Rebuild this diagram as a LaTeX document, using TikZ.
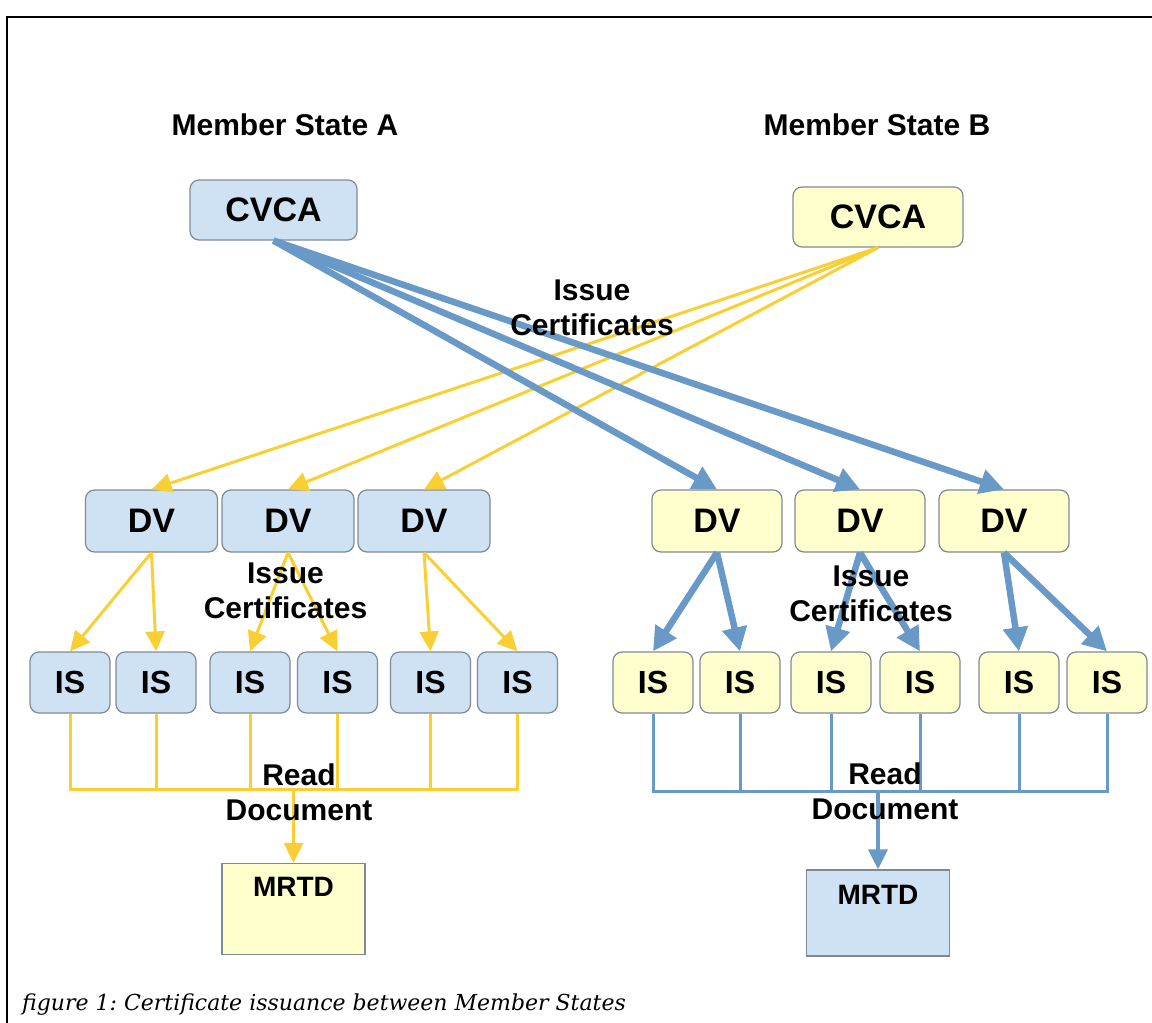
\documentclass[tikz,border=0pt]{standalone}
\usepackage{fontspec}
\setmainfont{Liberation Sans}
\newfontfamily\captionfont{DejaVu Serif}
\usepackage{tikz}
\usetikzlibrary{arrows.meta}
\usetikzlibrary{positioning}

\definecolor{paleblue}{RGB}{207,226,243}
\definecolor{paleyellow}{RGB}{255,255,206}
\definecolor{boxline}{RGB}{128,138,150}
\definecolor{arrowblue}{RGB}{104,153,199}
\definecolor{arrowyellow}{RGB}{249,207,52}

\begin{document}
\begin{tikzpicture}[x=1pt,y=-1pt,
  every node/.style={font=\bfseries\fontsize{30}{35}\selectfont,align=center,inner sep=0pt},
  box node/.style={draw=boxline,line width=1.2pt,rounded corners=9pt,font=\bfseries\fontsize{34}{36}\selectfont},
  ca node/.style={box node,minimum width=167pt,minimum height=60pt},
  dv node/.style={box node,minimum width=132pt,minimum height=62pt},
  is node/.style={box node,minimum width=80pt,minimum height=61pt,font=\bfseries\fontsize{32}{34}\selectfont},
  doc node/.style={draw=boxline,line width=1.2pt,minimum width=143pt,inner ysep=13pt,text height=20pt,font=\bfseries\fontsize{28}{30}\selectfont},
  yellow arrow/.style={color=arrowyellow,line width=3pt,-{Triangle[length=20pt,width=19pt]}},
  blue arrow/.style={color=arrowblue,line width=6.5pt,-{Triangle[length=24pt,width=24pt]}},
  yellow wire/.style={color=arrowyellow,line width=3pt},
  blue wire/.style={color=arrowblue,line width=3pt}]

  \useasboundingbox (0,0) rectangle (1152,1023);
  \draw[line width=2.5pt] (1152,17) -- (7,17) -- (7,1023);

  % member state A
  \node (stateA) at (285,125) {Member State A};
  \node[ca node,fill=paleblue] (cvcaA) at (273.5,210) {CVCA};
  \node[dv node,fill=paleblue] (dvA1) at (151.5,521) {DV};
  \node[dv node,fill=paleblue] (dvA2) at (288,521) {DV};
  \node[dv node,fill=paleblue] (dvA3) at (424,521) {DV};
  \node[is node,fill=paleblue] (isA1) at (70,682.5) {IS};
  \node[is node,fill=paleblue] (isA2) at (156,682.5) {IS};
  \node[is node,fill=paleblue] (isA3) at (250,682.5) {IS};
  \node[is node,fill=paleblue] (isA4) at (337.5,682.5) {IS};
  \node[is node,fill=paleblue] (isA5) at (430.5,682.5) {IS};
  \node[is node,fill=paleblue] (isA6) at (517.5,682.5) {IS};
  \node[doc node,fill=paleyellow,text depth=45pt] (mrtdA) at (293.5,909) {MRTD};

  % member state B
  \node (stateB) at (877,125) {Member State B};
  \node[ca node,fill=paleyellow,minimum width=170pt] (cvcaB) at (878,217) {CVCA};
  \node[dv node,fill=paleyellow,minimum width=130pt] (dvB1) at (717,521) {DV};
  \node[dv node,fill=paleyellow,minimum width=130pt] (dvB2) at (860,521) {DV};
  \node[dv node,fill=paleyellow,minimum width=130pt] (dvB3) at (1004,521) {DV};
  \node[is node,fill=paleyellow] (isB1) at (653,682.5) {IS};
  \node[is node,fill=paleyellow] (isB2) at (740,682.5) {IS};
  \node[is node,fill=paleyellow] (isB3) at (831,682.5) {IS};
  \node[is node,fill=paleyellow] (isB4) at (920,682.5) {IS};
  \node[is node,fill=paleyellow] (isB5) at (1019,682.5) {IS};
  \node[is node,fill=paleyellow] (isB6) at (1107,682.5) {IS};
  \node[doc node,fill=paleblue,inner ysep=14pt,text depth=38pt] (mrtdB) at (878,913) {MRTD};

  % issue certificates
  \path[yellow arrow]
    (cvcaB.south) edge (dvA1.north)
                  edge (dvA2.north)
                  edge (dvA3.north)
    (dvA1.south) edge (isA1.north) edge (isA2.north)
    (dvA2.south) edge (isA3.north) edge (isA4.north)
    (dvA3.south) edge (isA5.north) edge (isA6.north);
  \path[blue arrow]
    (cvcaA.south) edge (dvB1.north)
                  edge (dvB2.north)
                  edge (dvB3.north)
    (dvB1.south) edge (isB1.north) edge (isB2.north)
    (dvB2.south) edge (isB3.north) edge (isB4.north)
    (dvB3.south) edge (isB5.north) edge (isB6.north);

  % read document
  \coordinate (busA) at (293.5,789);
  \coordinate (busB) at (878,791);
  \draw[yellow wire] (isA1.south) |- (isA6.south |- busA) -- (isA6.south);
  \draw[yellow wire] (isA2.south) -- (isA2.south |- busA)
                     (isA3.south) -- (isA3.south |- busA)
                     (isA4.south) -- (isA4.south |- busA)
                     (isA5.south) -- (isA5.south |- busA);
  \draw[yellow arrow] (busA) -- (mrtdA.north);
  \draw[blue wire] (isB1.south) |- (isB6.south |- busB) -- (isB6.south);
  \draw[blue wire] (isB2.south) -- (isB2.south |- busB)
                   (isB3.south) -- (isB3.south |- busB)
                   (isB4.south) -- (isB4.south |- busB)
                   (isB5.south) -- (isB5.south |- busB);
  \draw[blue arrow,line width=3.5pt,-{Triangle[length=20pt,width=19pt]}] (busB) -- (mrtdB.north);

  % labels
  \node (issueMid) at (592,308) {Issue\\Certificates};
  \node (issueA) at (285.5,591) {Issue\\Certificates};
  \node (issueB) at (871,594) {Issue\\Certificates};
  \node (readA) at (299,792) {Read\\Document};
  \node (readB) at (885,791) {Read\\Document};

  \node[anchor=base west,font=\captionfont\itshape\fontsize{22}{26}\selectfont] (caption) at (22,1010)
    {\frenchspacing figure 1: Certificate issuance between Member States};
\end{tikzpicture}
\end{document}
